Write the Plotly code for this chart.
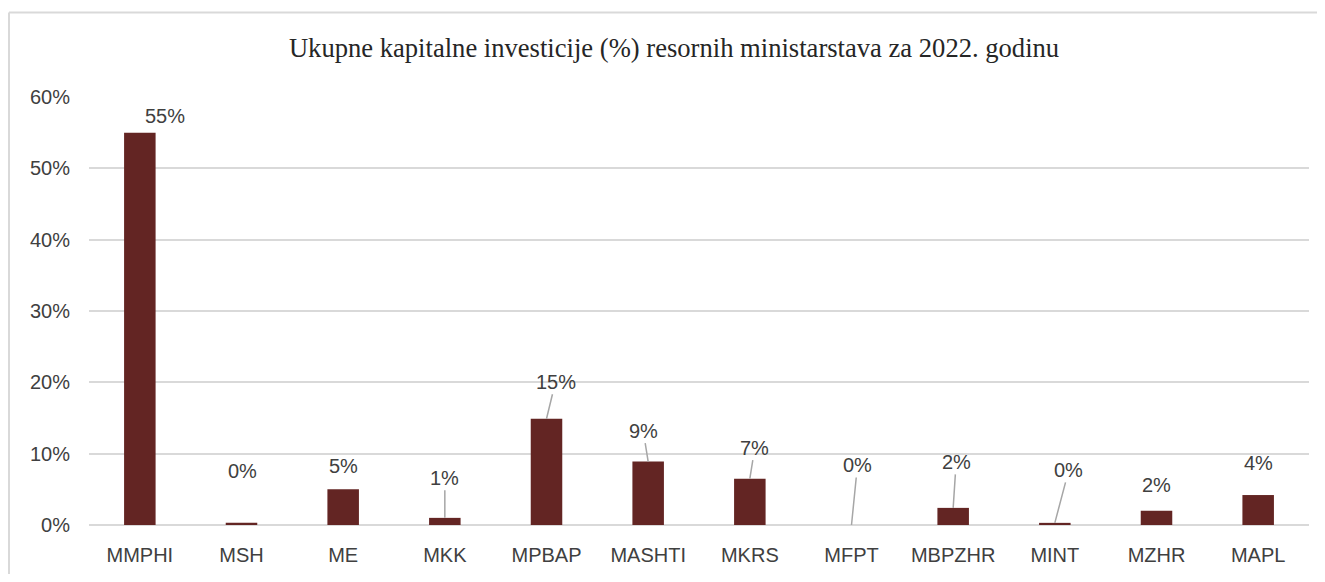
import plotly.graph_objects as go

# Ukupne kapitalne investicije po ministarstvima, 2022
ministarstva = ["MMPHI", "MSH", "ME", "MKK", "MPBAP", "MASHTI", "MKRS",
                "MFPT", "MBPZHR", "MINT", "MZHR", "MAPL"]
udio = [0.550, 0.003, 0.050, 0.010, 0.149, 0.089, 0.065,
        0.000, 0.024, 0.003, 0.020, 0.042]
oznake = ["55%", "0%", "5%", "1%", "15%", "9%", "7%",
          "0%", "2%", "0%", "2%", "4%"]

# pomak natpisa (px) i da li ima liniju vodilju
pomak_x = [25, 1, 0, 0, 9, -5, 5, 6, 3, 14, 0, 0]
pomak_y = [-17, -52, -23, -40, -37, -31, -31, -60, -46, -53, -26, -32]
linija = [False, False, False, True, True, True, True, True, True, True, False, False]

boja = "#632523"
font_osi = "Liberation Sans"

fig = go.Figure(go.Bar(x=ministarstva, y=udio, marker_color=boja,
                       marker_line_width=0, width=0.31, hoverinfo="x+y"))

for i, k in enumerate(ministarstva):
    fig.add_annotation(x=k, y=udio[i], text=oznake[i], showarrow=True,
                       ax=pomak_x[i], ay=pomak_y[i], arrowhead=0, arrowwidth=1.5,
                       arrowcolor="#a6a6a6" if linija[i] else "rgba(0,0,0,0)",
                       standoff=0, startstandoff=0,
                       font=dict(family=font_osi, size=20, color="#404040"))

# manja slika da stane u prozor bez klizaca (body ima 8px margine)
fig.update_layout(
    width=1309, height=566,
    margin=dict(l=81, r=8, t=89, b=46),
    paper_bgcolor="white", plot_bgcolor="white",
    showlegend=False,
    title=dict(text="Ukupne kapitalne investicije (%) resornih ministarstava za 2022. godinu",
               x=0.5088, xanchor="center", y=1 - 40 / 566, yanchor="middle",
               font=dict(family="Liberation Serif", size=26.6, color="#262626")),
    bargap=0.69,
)
fig.update_xaxes(showgrid=False, showline=False, ticks="", ticklabelstandoff=16,
                 tickfont=dict(family=font_osi, size=20, color="#404040"))
fig.update_yaxes(range=[0, 0.6], dtick=0.1, tickformat=".0%",
                 showgrid=True, gridcolor="#d9d9d9", gridwidth=2,
                 zeroline=True, zerolinecolor="#d9d9d9", zerolinewidth=2,
                 ticks="", ticklabelstandoff=18,
                 tickfont=dict(family=font_osi, size=20, color="#404040"))

# okvir grafikona: vidi se samo lijeva i gornja ivica
x_lijevo = (1 - 81) / 1220
y_gore = (520 - 4) / 431
fig.add_shape(type="line", xref="paper", yref="paper",
              x0=x_lijevo, x1=x_lijevo, y0=-0.2, y1=y_gore,
              line=dict(color="#d9d9d9", width=2), layer="below")
fig.add_shape(type="line", xref="paper", yref="paper",
              x0=x_lijevo, x1=1.05, y0=y_gore, y1=y_gore,
              line=dict(color="#d9d9d9", width=2), layer="below")

fig.write_html("out.html")
